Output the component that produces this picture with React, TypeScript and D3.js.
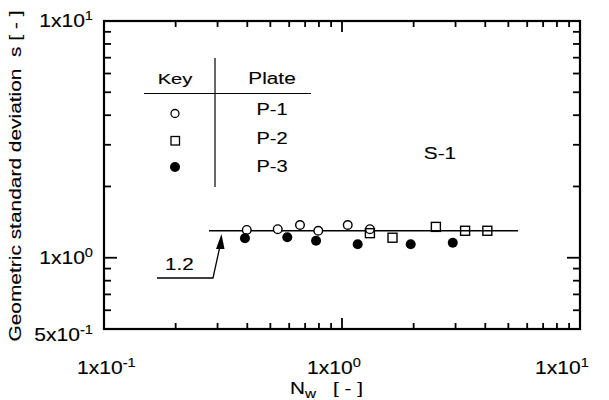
import React from "react";
import * as d3 from "d3";

// ---------- data ----------
const p1X = [0.398, 0.537, 0.666, 0.795, 1.057, 1.31];
const p1Y = [1.31, 1.32, 1.375, 1.30, 1.375, 1.32];
const p2X = [1.31, 1.63, 2.48, 3.29, 4.08];
const p2Y = [1.27, 1.215, 1.35, 1.30, 1.30];
const p3X = [0.391, 0.589, 0.778, 1.164, 1.944, 2.92];
const p3Y = [1.208, 1.22, 1.18, 1.14, 1.14, 1.157];
const fitX = [0.276, 5.49];
const fitY = [1.3, 1.3];
const fitLabel = "1.2";

const xMajor = [0.1, 1, 10];
const xMinor = [0.2, 0.3, 0.4, 0.5, 0.6, 0.7, 0.8, 0.9, 2, 3, 4, 5, 6, 7, 8, 9];
const yMajor = [1, 10];
const yMinor = [0.6, 0.7, 0.8, 0.9, 2, 3, 4, 5, 6, 7, 8, 9];
const xTickLabels = [
  { v: 0.1, m: "1x10", e: "-1" },
  { v: 1, m: "1x10", e: "0" },
  { v: 10, m: "1x10", e: "1" },
];
const yTickLabels = [
  { v: 10, m: "1x10", e: "1" },
  { v: 1, m: "1x10", e: "0" },
  { v: 0.5, m: "5x10", e: "-1" },
];
const legendKeys = ["P-1", "P-2", "P-3"];

const FONT = "'Liberation Sans', Arial, Helvetica, sans-serif";

function T(props: {
  x: number; y: number; size: number; sx?: number; anchor?: string; rotate?: number; children: React.ReactNode;
}) {
  const { x, y, size, sx = 1.2, anchor = "start", rotate = 0, children } = props;
  const tr = rotate
    ? `translate(${x},${y}) rotate(${rotate}) scale(${sx},1)`
    : `translate(${x},${y}) scale(${sx},1)`;
  return (
    <text
      transform={tr}
      x={0}
      y={0}
      textAnchor={anchor}
      fontSize={size}
      fill="#000"
      stroke="#000"
      strokeWidth={0.12}
    >
      {children}
    </text>
  );
}

export default function App() {
  const L = 104, R = 580, T0 = 21, B = 329;
  const x = d3.scaleLog().domain([0.1, 10]).range([L, R]);
  const y = d3.scaleLog().domain([0.5, 10]).range([B, T0]);
  const majLen = 11, minLen = 6;
  const line = d3.line<[number, number]>().x((d) => x(d[0])).y((d) => y(d[1]));
  const fitPts: [number, number][] = fitX.map((v, i) => [v, fitY[i]]);

  const xLabelX = [77, 307, 535];
  const yLabelDy = [6, 6, 12];

  return (
    <svg
      width={609}
      height={400}
      style={{ position: "absolute", left: 0, top: 0, background: "#fff" }}
      fontFamily={FONT}
    >
      {/* frame */}
      <rect x={L} y={T0} width={R - L} height={B - T0} fill="none" stroke="#000" strokeWidth={2.2} />
      {xMajor.concat(xMinor).map((v, i) => {
        const len = xMajor.includes(v) ? majLen : minLen;
        return (
          <g key={"xt" + i} stroke="#000" strokeWidth={1.8}>
            <line x1={x(v)} x2={x(v)} y1={B} y2={B - len} />
            <line x1={x(v)} x2={x(v)} y1={T0} y2={T0 + len} />
          </g>
        );
      })}
      {yMajor.concat(yMinor).map((v, i) => {
        const len = yMajor.includes(v) ? majLen + 2 : minLen + 1;
        return (
          <g key={"yt" + i} stroke="#000" strokeWidth={1.8}>
            <line x1={L} x2={L + len} y1={y(v)} y2={y(v)} />
            <line x1={R} x2={R - len} y1={y(v)} y2={y(v)} />
          </g>
        );
      })}
      {/* x tick labels */}
      {xTickLabels.map((t, i) => (
        <T key={"xl" + i} x={xLabelX[i]} y={374} size={18} sx={1.17}>
          {t.m}
          <tspan fontSize={12.5} dy={-7}>{t.e}</tspan>
        </T>
      ))}
      {/* y tick labels */}
      {yTickLabels.map((t, i) => (
        <T key={"yl" + i} x={93} y={y(t.v) + yLabelDy[i]} size={18} sx={1.17} anchor="end">
          {t.m}
          <tspan fontSize={12.5} dy={-7}>{t.e}</tspan>
        </T>
      ))}
      {/* axis titles */}
      <T x={290} y={394} size={17} sx={1.22}>
        N<tspan fontSize={12.5} dy={4}>w</tspan>
        <tspan dy={-4} dx={14}>[ - ]</tspan>
      </T>
      <T x={21} y={176} size={17} sx={1.23} anchor="middle" rotate={-90}>
        Geometric standard deviation{"\u00a0\u00a0"}s [ - ]
      </T>

      {/* fit line */}
      <path d={line(fitPts) || ""} fill="none" stroke="#000" strokeWidth={1.5} />
      <T x={165} y={270} size={16.5} sx={1.25}>{fitLabel}</T>
      <polyline points={`157,278 213,278 220,246`} fill="none" stroke="#000" strokeWidth={1.3} />
      <polygon points="221.5,234 216,249 224.5,249" fill="#000" />

      {/* data */}
      {p1X.map((v, i) => (
        <circle key={"p1" + i} cx={x(v)} cy={y(p1Y[i])} r={4.3} fill="#fff" stroke="#000" strokeWidth={1.4} />
      ))}
      {p2X.map((v, i) => (
        <rect key={"p2" + i} x={x(v) - 4.5} y={y(p2Y[i]) - 4.5} width={9} height={9} fill="none" stroke="#000" strokeWidth={1.4} />
      ))}
      {p3X.map((v, i) => (
        <circle key={"p3" + i} cx={x(v)} cy={y(p3Y[i])} r={5} fill="#000" />
      ))}

      <T x={440} y={159} size={16} sx={1.3} anchor="middle">S-1</T>

      {/* legend table */}
      <line x1={144} x2={311} y1={93.5} y2={93.5} stroke="#000" strokeWidth={1.2} />
      <line x1={215} x2={215} y1={58} y2={187} stroke="#000" strokeWidth={1.2} />
      <T x={175} y={84} size={15.5} sx={1.3} anchor="middle">Key</T>
      <T x={272} y={84} size={16} sx={1.3} anchor="middle">Plate</T>
      <circle cx={175} cy={113.5} r={4} fill="#fff" stroke="#000" strokeWidth={1.3} />
      <rect x={171} y={136.5} width={8.5} height={8.5} fill="#fff" stroke="#000" strokeWidth={1.3} />
      <circle cx={175} cy={167} r={5} fill="#000" />
      {legendKeys.map((k, i) => (
        <T key={k} x={272} y={115 + i * 28.5} size={16} sx={1.25} anchor="middle">{k}</T>
      ))}
    </svg>
  );
}
